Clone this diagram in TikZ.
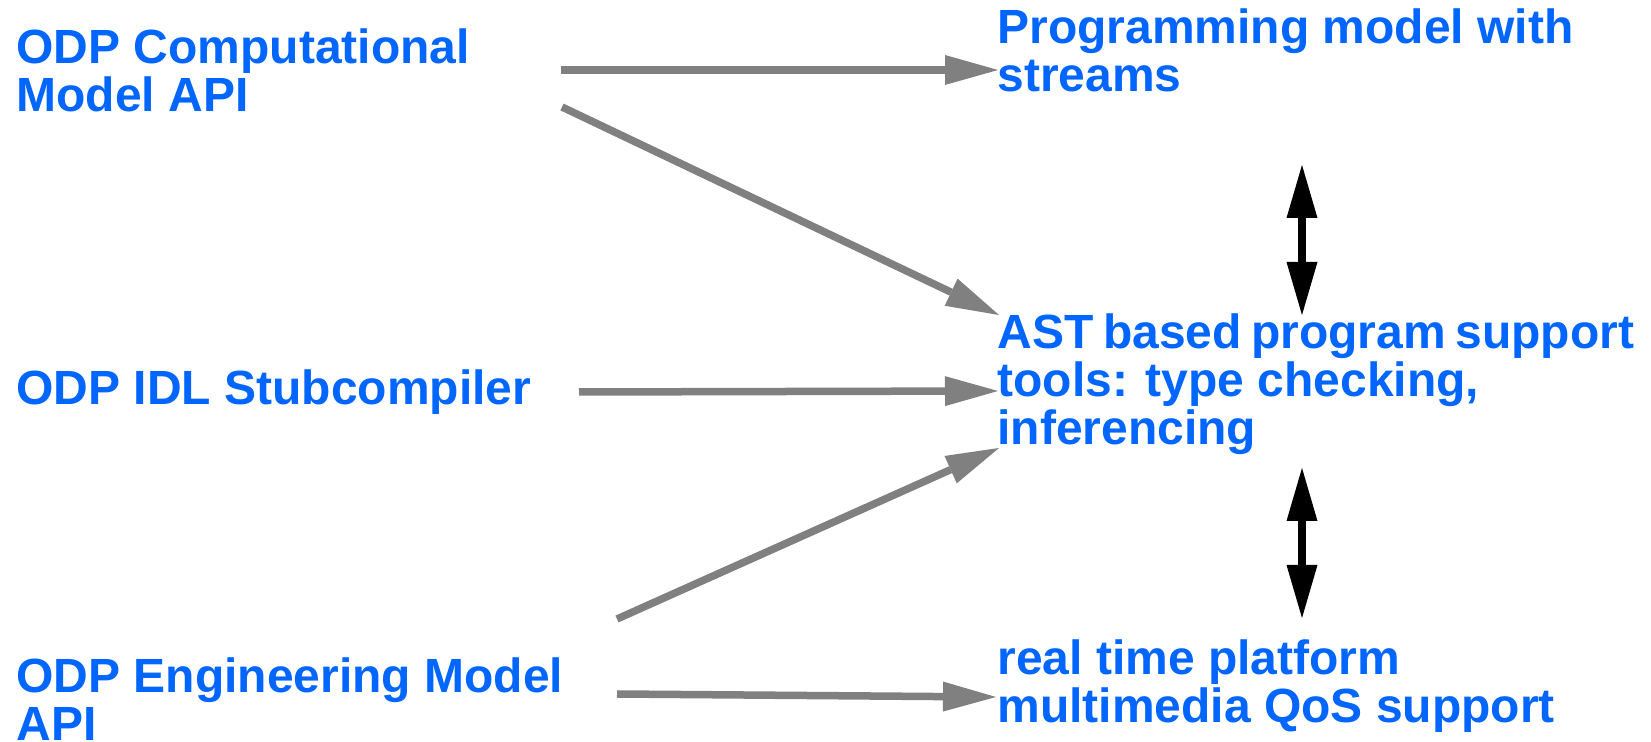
\documentclass[tikz,border=0pt]{standalone}
\usepackage{fontspec}
\setmainfont{Liberation Sans}
\usetikzlibrary{arrows.meta}
\definecolor{txtblue}{RGB}{0,102,255}
\definecolor{arrgray}{RGB}{128,128,128}
\tikzset{
  lbl/.style={anchor=base west, inner sep=0pt, align=left, text=txtblue,
    font=\fontsize{24pt}{24pt}\selectfont\bfseries},
  grayarrow/.style={draw=arrgray, line width=3.75pt,
    -{Triangle[length=26.5pt,width=15pt,line width=0pt]}},
  blackarrow/.style={draw=black, line width=4pt,
    {Triangle[length=26.5pt,width=15.5pt,line width=0pt]}-{Triangle[length=26.5pt,width=15.5pt,line width=0pt]}}
}
\begin{document}
\begin{tikzpicture}[x=0.5pt,y=-0.5pt]
\useasboundingbox (0,0) rectangle (1651,742);
% text nodes (anchored at the baseline of their last line)
\node[lbl] (cm) at (16,112) {ODP Computational\\Model API};
\node[lbl] (idl) at (16,405) {ODP IDL Stubcompiler};
\node[lbl] (eng) at (16,741) {ODP Engineering Model\\API};
\node[lbl] (prog) at (997,92) {Programming model with\\streams};
\node[lbl] (ast) at (997,445) {{\spaceskip=4.8pt\relax AST based program support}\\tools: type checking,\\inferencing};
\node[lbl] (rt) at (997,723) {real time platform\\multimedia QoS support};
% connector ends
\coordinate (s1) at (561,70);  \coordinate (e1) at (998,70);
\coordinate (s2) at (562,107); \coordinate (e2) at (999,315);
\coordinate (s3) at (579,392); \coordinate (e3) at (998,391);
\coordinate (s4) at (617,619); \coordinate (e4) at (999,448);
\coordinate (s5) at (617,694); \coordinate (e5) at (996,697);
\coordinate (b1) at (1302,165); \coordinate (b2) at (1302,315);
\coordinate (b3) at (1302,468); \coordinate (b4) at (1302,618);
% connectors
\draw[grayarrow] (s1) -- (e1);
\draw[grayarrow] (s2) -- (e2);
\draw[grayarrow] (s3) -- (e3);
\draw[grayarrow] (s4) -- (e4);
\draw[grayarrow] (s5) -- (e5);
\draw[blackarrow] (b1) -- (b2);
\draw[blackarrow] (b3) -- (b4);
\end{tikzpicture}
\end{document}
